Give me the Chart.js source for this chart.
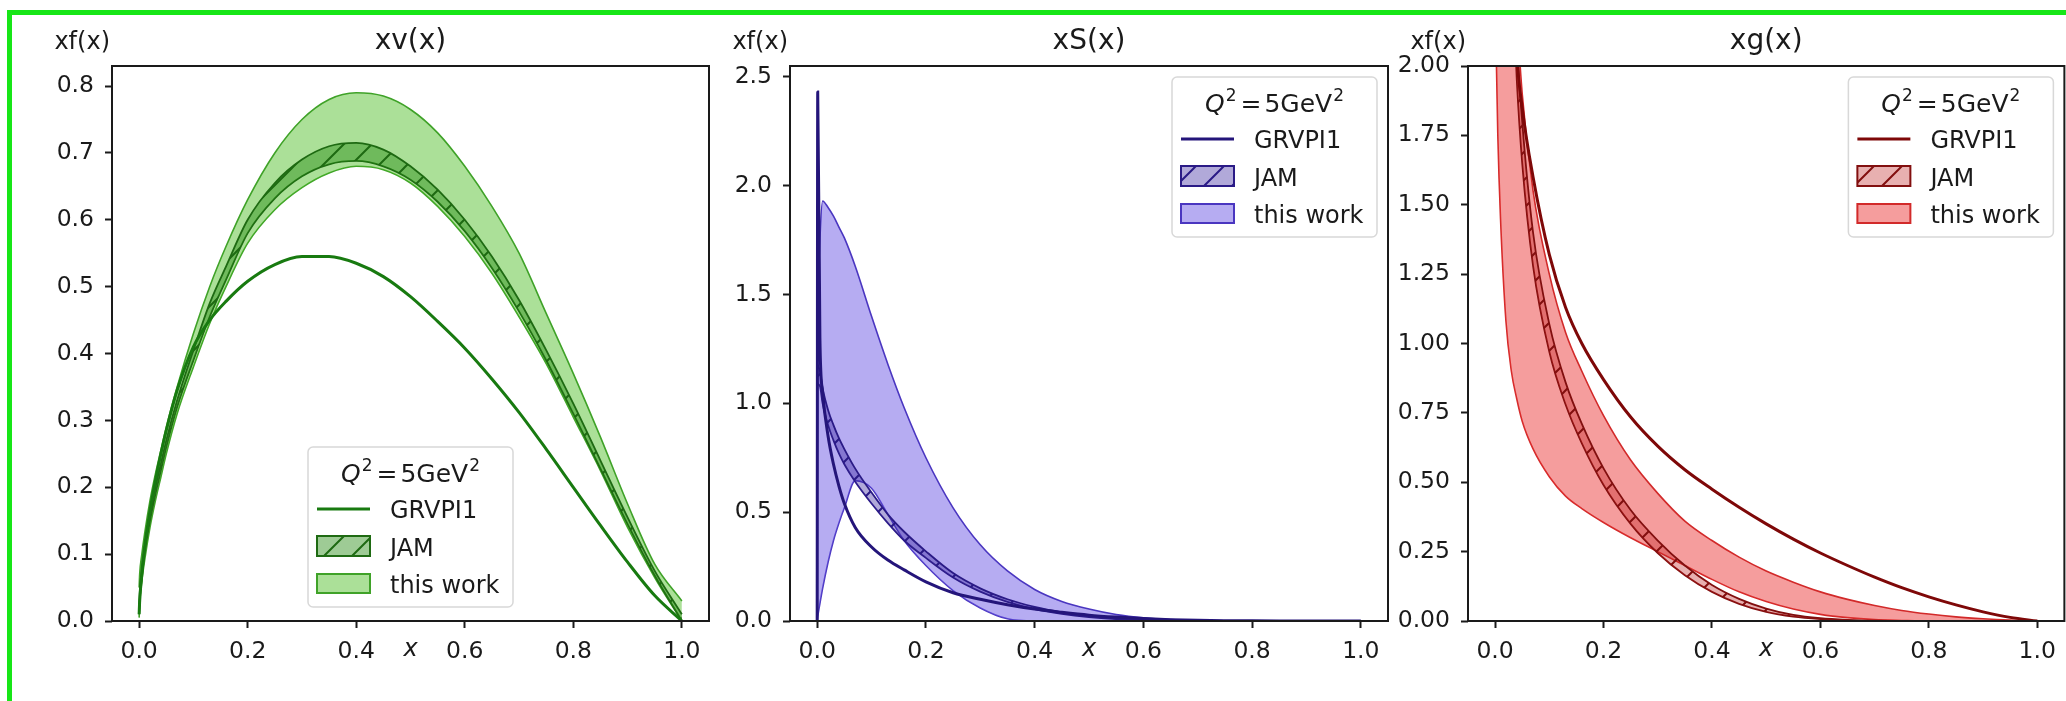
<!DOCTYPE html>
<html>
<head>
<meta charset="utf-8">
<script src="https://cdn.jsdelivr.net/npm/chart.js@4.4.1/dist/chart.umd.min.js"></script>
<style>
    html, body { margin: 0; padding: 0; background: #fff; }
    #wrap { position: relative; width: 2066px; height: 701px; overflow: hidden; background: #fff; }
    #wrap canvas { position: absolute; top: 0; }
    .frame { position: absolute; background: #17e617; }
</style>
</head>
<body>
<div id="wrap">
    <canvas id="chartV" width="699" height="701" style="left:12px"></canvas>
    <canvas id="chartS" width="700" height="701" style="left:690px"></canvas>
    <canvas id="chartG" width="698" height="701" style="left:1368px"></canvas>
    <div class="frame" style="left:7px;top:10px;width:2059px;height:5px"></div>
    <div class="frame" style="left:7px;top:10px;width:5px;height:691px"></div>
</div>
<script>
// x grid shared by every curve
var xs = [0, 0.001, 0.005, 0.01, 0.02, 0.03, 0.04, 0.05, 0.07, 0.1, 0.13, 0.16, 0.2, 0.25, 0.3, 0.35, 0.4, 0.45, 0.5, 0.55, 0.6, 0.65, 0.7, 0.75, 0.8, 0.85, 0.9, 0.95, 1.0];

// xv(x)
var grvV = [0.01, 0.03, 0.07, 0.11, 0.165, 0.21, 0.25, 0.285, 0.345, 0.41, 0.45, 0.478, 0.508, 0.533, 0.545, 0.545, 0.535, 0.515, 0.485, 0.448, 0.408, 0.362, 0.312, 0.257, 0.2, 0.143, 0.088, 0.038, 0.0];
var jamHiV = [0.02, 0.04, 0.08, 0.11, 0.16, 0.2, 0.235, 0.27, 0.33, 0.405, 0.475, 0.53, 0.6, 0.655, 0.69, 0.71, 0.715, 0.705, 0.68, 0.645, 0.6, 0.545, 0.48, 0.405, 0.325, 0.24, 0.155, 0.075, 0.01];
var jamLoV = [0.01, 0.03, 0.065, 0.1, 0.15, 0.19, 0.225, 0.26, 0.32, 0.39, 0.455, 0.51, 0.58, 0.632, 0.665, 0.683, 0.688, 0.68, 0.66, 0.627, 0.583, 0.528, 0.463, 0.39, 0.31, 0.228, 0.145, 0.068, 0.0];
var workHiV = [0.05, 0.07, 0.1, 0.13, 0.18, 0.22, 0.255, 0.29, 0.35, 0.43, 0.5, 0.56, 0.63, 0.7, 0.75, 0.78, 0.79, 0.785, 0.765, 0.73, 0.68, 0.62, 0.55, 0.46, 0.37, 0.275, 0.175, 0.085, 0.03];
var workLoV = [0.005, 0.025, 0.06, 0.09, 0.14, 0.18, 0.215, 0.25, 0.31, 0.38, 0.445, 0.5, 0.565, 0.615, 0.648, 0.67, 0.68, 0.675, 0.655, 0.62, 0.575, 0.52, 0.455, 0.385, 0.305, 0.225, 0.14, 0.065, 0.0];

// xS(x)
var grvS = [0, 2.43, 1.3, 1.05, 0.85, 0.72, 0.62, 0.54, 0.43, 0.34, 0.28, 0.235, 0.18, 0.13, 0.1, 0.075, 0.055, 0.04, 0.027, 0.018, 0.011, 0.006, 0.003, 0.0015, 0.0007, 0.0003, 0.0001, 0, 0];
var jamHiS = [1.2, 1.18, 1.15, 1.07, 0.97, 0.9, 0.84, 0.79, 0.7, 0.59, 0.49, 0.41, 0.32, 0.22, 0.15, 0.1, 0.065, 0.04, 0.022, 0.012, 0.005, 0.002, 0.001, 0, 0, 0, 0, 0, 0];
var jamLoS = [1.1, 1.09, 1.08, 1.0, 0.9, 0.83, 0.77, 0.72, 0.64, 0.54, 0.45, 0.37, 0.29, 0.2, 0.135, 0.088, 0.055, 0.033, 0.018, 0.009, 0.004, 0.0015, 0.0005, 0, 0, 0, 0, 0, 0];
var workHiS = [1.15, 1.4, 1.75, 1.93, 1.9, 1.86, 1.81, 1.76, 1.63, 1.4, 1.18, 0.98, 0.75, 0.52, 0.35, 0.23, 0.145, 0.09, 0.055, 0.03, 0.015, 0.007, 0.003, 0.001, 0, 0, 0, 0, 0];
var workLoS = [0, 0.02, 0.08, 0.15, 0.27, 0.37, 0.45, 0.52, 0.645, 0.61, 0.49, 0.37, 0.255, 0.14, 0.06, 0.01, 0, 0, 0, 0, 0, 0, 0, 0, 0, 0, 0, 0, 0];

// xg(x)
var grvG = [10, 9, 7, 5.5, 3.4, 2.6, 2.05, 1.85, 1.6, 1.32, 1.13, 1.0, 0.87, 0.735, 0.63, 0.545, 0.475, 0.41, 0.35, 0.295, 0.245, 0.2, 0.158, 0.12, 0.087, 0.058, 0.033, 0.013, 0];
var jamHiG = [9, 8, 6, 4.8, 3.4, 2.7, 2.1, 1.8, 1.4, 1.07, 0.86, 0.71, 0.55, 0.4, 0.29, 0.2, 0.13, 0.08, 0.045, 0.022, 0.01, 0.004, 0.001, 0, 0, 0, 0, 0, 0];
var jamLoG = [8, 7, 5.2, 4.2, 3.0, 2.4, 1.95, 1.65, 1.28, 0.97, 0.78, 0.64, 0.49, 0.35, 0.245, 0.165, 0.105, 0.062, 0.033, 0.016, 0.007, 0.002, 0, 0, 0, 0, 0, 0, 0];
var workHiG = [6, 5.8, 5, 4.2, 3.2, 2.6, 2.2, 1.9, 1.55, 1.25, 1.04, 0.9, 0.74, 0.58, 0.46, 0.36, 0.29, 0.23, 0.18, 0.14, 0.105, 0.078, 0.056, 0.038, 0.025, 0.015, 0.008, 0.003, 0];
var workLoG = [2.3, 2.15, 1.75, 1.45, 1.08, 0.9, 0.8, 0.72, 0.62, 0.52, 0.45, 0.405, 0.355, 0.3, 0.25, 0.2, 0.15, 0.105, 0.07, 0.043, 0.024, 0.012, 0.005, 0.002, 0, 0, 0, 0, 0];

// tick labels
var xTicks = [0, 0.2, 0.4, 0.6, 0.8, 1.0];
var yTicksV = [0, 0.1, 0.2, 0.3, 0.4, 0.5, 0.6, 0.7, 0.8];
var yTicksS = [0, 0.5, 1.0, 1.5, 2.0, 2.5];
var yTicksG = [0, 0.25, 0.5, 0.75, 1.0, 1.25, 1.5, 1.75, 2.0];

var seriesNames = ["GRVPI1", "JAM", "this work"];
var textColor = "#1a1a1a";
var fontFamily = "'DejaVu Sans', sans-serif";

function pts(arr) {
    return xs.map(function (x, i) {
        return { x: x, y: arr[i] };
    });
}

// '/' hatch on top of a transparent fill, like matplotlib hatch="/"
function hatch(ctx, fill, line) {
    var s = 28;
    var c = document.createElement("canvas");
    c.width = s;
    c.height = s;
    var g = c.getContext("2d");
    g.fillStyle = fill;
    g.fillRect(0, 0, s, s);
    g.strokeStyle = line;
    g.lineWidth = 2;
    g.beginPath();
    g.moveTo(-2, s + 2);
    g.lineTo(s + 2, -2);
    g.moveTo(-2, 2);
    g.lineTo(2, -2);
    g.moveTo(s - 2, s + 2);
    g.lineTo(s + 2, s - 2);
    g.stroke();
    return ctx.createPattern(c, "repeat");
}

function roundRect(ctx, x, y, w, h, r) {
    ctx.beginPath();
    ctx.moveTo(x + r, y);
    ctx.arcTo(x + w, y, x + w, y + h, r);
    ctx.arcTo(x + w, y + h, x, y + h, r);
    ctx.arcTo(x, y + h, x, y, r);
    ctx.arcTo(x, y, x + w, y, r);
    ctx.closePath();
}

// spines, titles, x label and the legend box
var decor = {
    id: "decor",
    afterDraw: function (chart, args, o) {
        var ctx = chart.ctx;
        var a = chart.chartArea;
        ctx.save();

        ctx.strokeStyle = textColor;
        ctx.lineWidth = 2;
        ctx.strokeRect(a.left, a.top, a.right - a.left, a.bottom - a.top);

        ctx.fillStyle = textColor;
        ctx.textBaseline = "alphabetic";
        ctx.font = "28px " + fontFamily;
        ctx.textAlign = "center";
        ctx.fillText(o.title, (a.left + a.right) / 2, 49);
        ctx.font = "24px " + fontFamily;
        ctx.textAlign = "right";
        ctx.fillText("xf(x)", a.left - 2, 49);
        ctx.font = "italic 24px " + fontFamily;
        ctx.textAlign = "center";
        ctx.fillText("x", chart.scales.x.getPixelForValue(0.5), 656);

        // legend
        var w = 205, h = 160, bx, by;
        if (o.legendPos === "bottom") {
            bx = (a.left + a.right) / 2 - w / 2;
            by = a.bottom - 14 - h;
        } else {
            bx = a.right - 11 - w;
            by = a.top + 11;
        }
        roundRect(ctx, bx, by, w, h, 5);
        ctx.fillStyle = "rgba(255,255,255,0.8)";
        ctx.fill();
        ctx.strokeStyle = "#d8d8d8";
        ctx.lineWidth = 1.5;
        ctx.stroke();

        // title  Q^2 = 5GeV^2
        var parts = [
            { t: "Q", f: "italic 25px " + fontFamily, dy: 0, gap: 0 },
            { t: "2", f: "17px " + fontFamily, dy: -11, gap: 1 },
            { t: "=", f: "25px " + fontFamily, dy: 0, gap: 4 },
            { t: "5GeV", f: "25px " + fontFamily, dy: 0, gap: 3 },
            { t: "2", f: "17px " + fontFamily, dy: -11, gap: 1 }
        ];
        var total = 0;
        parts.forEach(function (p) {
            ctx.font = p.f;
            p.w = ctx.measureText(p.t).width;
            total += p.w + p.gap;
        });
        var cx = bx + w / 2 - total / 2;
        ctx.fillStyle = textColor;
        ctx.textAlign = "left";
        parts.forEach(function (p) {
            cx += p.gap;
            ctx.font = p.f;
            ctx.fillText(p.t, cx, by + 35 + p.dy);
            cx += p.w;
        });

        var ds = chart.data.datasets;
        var line = ds[0], jam = ds[1], work = ds[3];

        ctx.strokeStyle = line.borderColor;
        ctx.lineWidth = line.borderWidth;
        ctx.beginPath();
        ctx.moveTo(bx + 9, by + 62);
        ctx.lineTo(bx + 62, by + 62);
        ctx.stroke();

        ctx.fillStyle = jam.backgroundColor;
        ctx.fillRect(bx + 9, by + 89, 53, 20);
        ctx.strokeStyle = jam.borderColor;
        ctx.lineWidth = 2;
        ctx.strokeRect(bx + 9, by + 89, 53, 20);

        ctx.fillStyle = work.backgroundColor;
        ctx.fillRect(bx + 9, by + 127, 53, 19);
        ctx.strokeStyle = work.borderColor;
        ctx.lineWidth = 2;
        ctx.strokeRect(bx + 9, by + 127, 53, 19);

        ctx.fillStyle = textColor;
        ctx.font = "24px " + fontFamily;
        ctx.fillText(seriesNames[0], bx + 82, by + 71);
        ctx.fillText(seriesNames[1], bx + 82, by + 108.5);
        ctx.fillText(seriesNames[2], bx + 82, by + 146);

        ctx.restore();
    }
};

function makePanel(id, p) {
    var ctx = document.getElementById(id).getContext("2d");
    var tickFont = { family: fontFamily, size: 23.5 };
    var tickGrid = {
        display: true,
        drawOnChartArea: false,
        drawTicks: true,
        tickLength: 7,
        tickWidth: 2,
        tickColor: textColor
    };
    return new Chart(ctx, {
        type: "line",
        data: {
            datasets: [
                {
                    label: seriesNames[0],
                    data: pts(p.grv),
                    borderColor: p.lineColor,
                    borderWidth: 3,
                    fill: false
                },
                {
                    label: seriesNames[1],
                    data: pts(p.jamHi),
                    borderColor: p.jamEdge,
                    borderWidth: 1.8,
                    backgroundColor: hatch(ctx, p.jamFill, p.jamEdge),
                    fill: "+1"
                },
                {
                    label: seriesNames[1] + " low",
                    data: pts(p.jamLo),
                    borderColor: p.jamEdge,
                    borderWidth: 1.8,
                    fill: false
                },
                {
                    label: seriesNames[2],
                    data: pts(p.workHi),
                    borderColor: p.workEdge,
                    borderWidth: 1.6,
                    backgroundColor: p.workFill,
                    fill: "+1"
                },
                {
                    label: seriesNames[2] + " low",
                    data: pts(p.workLo),
                    borderColor: p.workEdge,
                    borderWidth: 1.6,
                    fill: false
                }
            ]
        },
        options: {
            responsive: false,
            animation: false,
            devicePixelRatio: 1,
            layout: { padding: { left: 0, right: p.padRight, top: 66, bottom: 0 } },
            elements: {
                point: { radius: 0 },
                line: { cubicInterpolationMode: "monotone" }
            },
            plugins: {
                legend: { display: false },
                tooltip: { enabled: false },
                decor: { title: p.title, legendPos: p.legendPos }
            },
            scales: {
                x: {
                    type: "linear",
                    min: -0.05,
                    max: 1.05,
                    afterBuildTicks: function (s) {
                        s.ticks = xTicks.map(function (v) { return { value: v }; });
                    },
                    afterFit: function (s) { s.height = 80; },
                    grid: tickGrid,
                    border: { display: false },
                    ticks: {
                        color: textColor,
                        font: tickFont,
                        padding: 10,
                        autoSkip: false,
                        maxRotation: 0,
                        callback: function (v) { return v.toFixed(1); }
                    }
                },
                y: {
                    type: "linear",
                    min: 0,
                    max: p.ymax,
                    afterBuildTicks: function (s) {
                        s.ticks = p.yTicks.map(function (v) { return { value: v }; });
                    },
                    afterFit: function (s) { s.width = 100; },
                    grid: tickGrid,
                    border: { display: false },
                    ticks: {
                        color: textColor,
                        font: tickFont,
                        padding: 11,
                        autoSkip: false,
                        callback: function (v) { return v.toFixed(p.digits); }
                    }
                }
            }
        },
        plugins: [decor]
    });
}

makePanel("chartV", {
    title: "xv(x)", legendPos: "bottom", ymax: 0.83, yTicks: yTicksV, digits: 1, padRight: 2,
    grv: grvV, jamHi: jamHiV, jamLo: jamLoV, workHi: workHiV, workLo: workLoV,
    lineColor: "#187a10",
    jamFill: "rgba(40,140,20,0.45)", jamEdge: "#1e6a12",
    workFill: "rgba(80,190,40,0.48)", workEdge: "#3fa228"
});

makePanel("chartS", {
    title: "xS(x)", legendPos: "top", ymax: 2.55, yTicks: yTicksS, digits: 1, padRight: 2,
    grv: grvS, jamHi: jamHiS, jamLo: jamLoS, workHi: workHiS, workLo: workLoS,
    lineColor: "#24157a",
    jamFill: "rgba(60,40,160,0.4)", jamEdge: "#2a1a86",
    workFill: "rgba(110,90,230,0.5)", workEdge: "#4a36c0"
});

makePanel("chartG", {
    title: "xg(x)", legendPos: "top", ymax: 2.0, yTicks: yTicksG, digits: 2, padRight: 1,
    grv: grvG, jamHi: jamHiG, jamLo: jamLoG, workHi: workHiG, workLo: workLoG,
    lineColor: "#7e0808",
    jamFill: "rgba(190,30,30,0.35)", jamEdge: "#820f0f",
    workFill: "rgba(235,50,50,0.48)", workEdge: "#d22a2a"
});
</script>
</body>
</html>
